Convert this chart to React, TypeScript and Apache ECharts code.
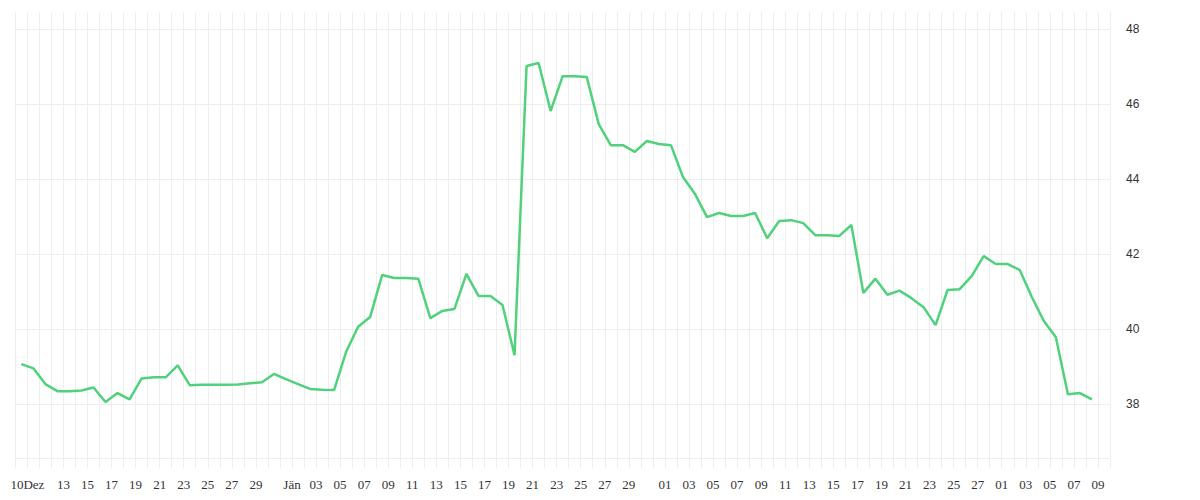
import React, { useEffect, useRef } from "react";
import * as echarts from "echarts";

// Daily categories (Dec 9 – Mar 9)
const categories: string[] = [
  "2022-12-09", "2022-12-10", "2022-12-11", "2022-12-12", "2022-12-13", "2022-12-14", "2022-12-15", "2022-12-16",
  "2022-12-17", "2022-12-18", "2022-12-19", "2022-12-20", "2022-12-21", "2022-12-22", "2022-12-23", "2022-12-24",
  "2022-12-25", "2022-12-26", "2022-12-27", "2022-12-28", "2022-12-29", "2022-12-30", "2022-12-31",
  "2023-01-01", "2023-01-02", "2023-01-03", "2023-01-04", "2023-01-05", "2023-01-06", "2023-01-07", "2023-01-08",
  "2023-01-09", "2023-01-10", "2023-01-11", "2023-01-12", "2023-01-13", "2023-01-14", "2023-01-15", "2023-01-16",
  "2023-01-17", "2023-01-18", "2023-01-19", "2023-01-20", "2023-01-21", "2023-01-22", "2023-01-23", "2023-01-24",
  "2023-01-25", "2023-01-26", "2023-01-27", "2023-01-28", "2023-01-29", "2023-01-30", "2023-01-31",
  "2023-02-01", "2023-02-02", "2023-02-03", "2023-02-04", "2023-02-05", "2023-02-06", "2023-02-07", "2023-02-08",
  "2023-02-09", "2023-02-10", "2023-02-11", "2023-02-12", "2023-02-13", "2023-02-14", "2023-02-15", "2023-02-16",
  "2023-02-17", "2023-02-18", "2023-02-19", "2023-02-20", "2023-02-21", "2023-02-22", "2023-02-23", "2023-02-24",
  "2023-02-25", "2023-02-26", "2023-02-27", "2023-02-28",
  "2023-03-01", "2023-03-02", "2023-03-03", "2023-03-04", "2023-03-05", "2023-03-06", "2023-03-07", "2023-03-08",
  "2023-03-09",
];

// Series values (Dec 9 – Mar 8)
const values: number[] = [
  39.07, 38.96, 38.54, 38.35, 38.35, 38.37, 38.45, 38.06, 38.30, 38.13,
  38.69, 38.72, 38.72, 39.04, 38.51, 38.52, 38.52, 38.52, 38.53, 38.56,
  38.59, 38.81, 38.67, 38.54, 38.41, 38.39, 38.38, 39.40, 40.07, 40.33,
  41.45, 41.37, 41.37, 41.35, 40.30, 40.49, 40.54, 41.48, 40.89, 40.89,
  40.65, 39.31, 47.02, 47.10, 45.82, 46.75, 46.75, 46.73, 45.47, 44.91,
  44.91, 44.73, 45.02, 44.94, 44.91, 44.06, 43.61, 42.99, 43.10, 43.02,
  43.02, 43.10, 42.43, 42.89, 42.91, 42.83, 42.51, 42.51, 42.49, 42.78,
  40.97, 41.35, 40.92, 41.03, 40.83, 40.59, 40.11, 41.05, 41.07, 41.42,
  41.95, 41.74, 41.74, 41.58, 40.86, 40.22, 39.79, 38.27, 38.30, 38.13,
];

// X tick labels
const tickLabels: [string, string][] = [
  ["2022-12-10", "10Dez"], ["2022-12-13", "13"], ["2022-12-15", "15"], ["2022-12-17", "17"], ["2022-12-19", "19"],
  ["2022-12-21", "21"], ["2022-12-23", "23"], ["2022-12-25", "25"], ["2022-12-27", "27"], ["2022-12-29", "29"],
  ["2023-01-01", "Jän"], ["2023-01-03", "03"], ["2023-01-05", "05"], ["2023-01-07", "07"], ["2023-01-09", "09"],
  ["2023-01-11", "11"], ["2023-01-13", "13"], ["2023-01-15", "15"], ["2023-01-17", "17"], ["2023-01-19", "19"],
  ["2023-01-21", "21"], ["2023-01-23", "23"], ["2023-01-25", "25"], ["2023-01-27", "27"], ["2023-01-29", "29"],
  ["2023-02-01", "01"], ["2023-02-03", "03"], ["2023-02-05", "05"], ["2023-02-07", "07"], ["2023-02-09", "09"],
  ["2023-02-11", "11"], ["2023-02-13", "13"], ["2023-02-15", "15"], ["2023-02-17", "17"], ["2023-02-19", "19"],
  ["2023-02-21", "21"], ["2023-02-23", "23"], ["2023-02-25", "25"], ["2023-02-27", "27"],
  ["2023-03-01", "01"], ["2023-03-03", "03"], ["2023-03-05", "05"], ["2023-03-07", "07"], ["2023-03-09", "09"],
];

const Y_MIN = 36.55;
const Y_MAX = 48.46;

export default function App() {
  const ref = useRef<HTMLDivElement>(null);

  useEffect(() => {
    if (!ref.current) return;
    const chart = echarts.init(ref.current, null, { renderer: "svg" });
    const labelMap = new Map<string, string>(tickLabels);
    const gridColor = "#eeeeee";
    chart.setOption({
      animation: false,
      backgroundColor: "#ffffff",
      grid: { left: 15.3, right: 90, top: 12, bottom: 41.3 },
      xAxis: {
        type: "category",
        data: categories,
        boundaryGap: true,
        axisLine: { show: true, lineStyle: { color: gridColor, width: 1 } },
        axisTick: { show: true, interval: 0, length: 10, lineStyle: { color: gridColor } },
        splitLine: { show: true, interval: 0, lineStyle: { color: gridColor, width: 1 } },
        axisLabel: {
          interval: 0,
          formatter: (v: string) => labelMap.get(v) ?? "",
          padding: [0, 12, 0, 0],
          margin: 19,
          fontFamily: "Liberation Serif",
          fontSize: 13,
          color: "#333333",
        },
      },
      yAxis: {
        type: "value",
        position: "right",
        min: Y_MIN,
        max: Y_MAX,
        splitNumber: 5,
        axisLine: { show: false },
        axisTick: { show: false },
        splitLine: { show: true, showMaxLine: false, lineStyle: { color: gridColor, width: 1 } },
        axisLabel: {
          showMinLabel: false,
          showMaxLabel: false,
          margin: 16,
          padding: [4, 0, 0, 0],
          fontSize: 12,
          color: "#333333",
        },
      },
      series: [
        {
          type: "line",
          data: values,
          symbol: "none",
          lineStyle: { color: "#4fd27b", width: 2.5 },
          itemStyle: { color: "#4fd27b" },
        },
      ],
    });
    return () => chart.dispose();
  }, []);

  return (
    <div
      ref={ref}
      style={{ position: "fixed", left: 0, top: 0, width: 1200, height: 500 }}
    />
  );
}
